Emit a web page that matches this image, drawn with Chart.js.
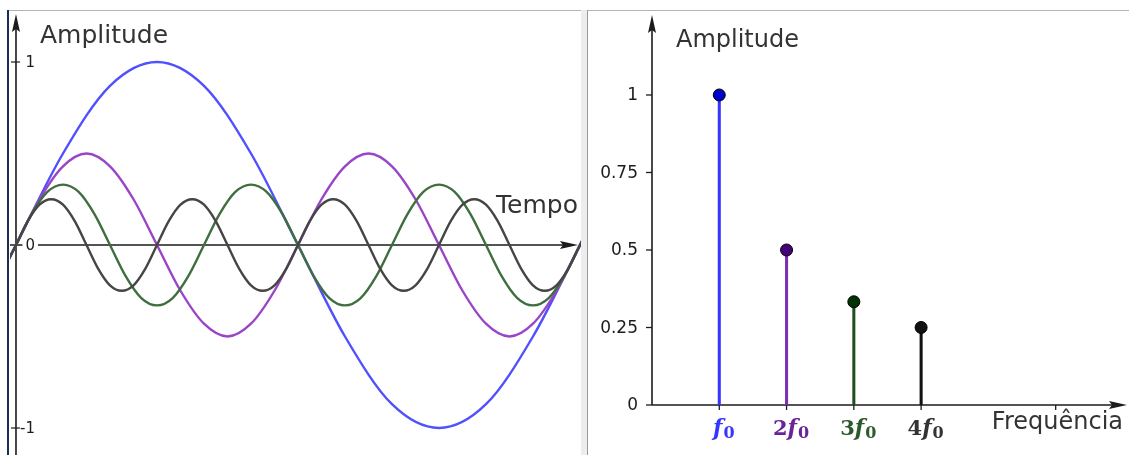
<!DOCTYPE html>
<html>
<head>
<meta charset="utf-8">
<script src="https://cdn.jsdelivr.net/npm/chart.js@4/dist/chart.umd.min.js"></script>
<style>
  body { margin: 0; background: #fff; }
  #quadro { position: relative; width: 1129px; height: 455px; overflow: hidden; }
  #quadro canvas { position: absolute; top: 0; }
  #graficoTempo { left: 0; }
  #graficoFreq { left: 588px; }
  .borda { position: absolute; }
</style>
</head>
<body>
<div id="quadro">
  <div class="borda" style="left:8px;top:10px;width:573px;height:1px;background:#b4b4b4"></div>
  <div class="borda" style="left:7px;top:10px;width:2px;height:445px;background:#1d2c52"></div>
  <div class="borda" style="left:581px;top:10px;width:6px;height:445px;background:#ededed"></div>
  <div class="borda" style="left:587px;top:10px;width:1px;height:445px;background:#9a9a9a"></div>
  <div class="borda" style="left:588px;top:10px;width:541px;height:1px;background:#b4b4b4"></div>
  <canvas id="graficoTempo" width="581" height="455"></canvas>
  <canvas id="graficoFreq" width="541" height="455"></canvas>
</div>
<script>
// tempo em 1/144 da janela; cada onda amostrada a cada 1/12 do seu período

// f0 (amplitude 1)
const tempo1 = [-12, 0, 12, 24, 36, 48, 60, 72, 84, 96, 108, 120, 132, 144, 156];
const onda1 = [-0.5, 0, 0.5, 0.87, 1, 0.87, 0.5, 0, -0.5, -0.87, -1, -0.87, -0.5, 0, 0.5];

// 2f0 (amplitude 1/2)
const tempo2 = [-6, 0, 6, 12, 18, 24, 30, 36, 42, 48, 54, 60, 66, 72, 78, 84, 90, 96, 102, 108,
  114, 120, 126, 132, 138, 144, 150];
const onda2 = [-0.25, 0, 0.25, 0.43, 0.5, 0.43, 0.25, 0, -0.25, -0.43, -0.5, -0.43, -0.25,
  0, 0.25, 0.43, 0.5, 0.43, 0.25, 0, -0.25, -0.43, -0.5, -0.43, -0.25, 0, 0.25];

// 3f0 (amplitude 1/3)
const tempo3 = [-4, 0, 4, 8, 12, 16, 20, 24, 28, 32, 36, 40, 44, 48, 52, 56, 60, 64, 68, 72,
  76, 80, 84, 88, 92, 96, 100, 104, 108, 112, 116, 120, 124, 128, 132, 136, 140, 144, 148];
const onda3 = [-0.17, 0, 0.17, 0.29, 0.33, 0.29, 0.17, 0, -0.17, -0.29, -0.33, -0.29, -0.17,
  0, 0.17, 0.29, 0.33, 0.29, 0.17, 0, -0.17, -0.29, -0.33, -0.29, -0.17,
  0, 0.17, 0.29, 0.33, 0.29, 0.17, 0, -0.17, -0.29, -0.33, -0.29, -0.17, 0, 0.17];

// 4f0 (amplitude 1/4)
const tempo4 = [-3, 0, 3, 6, 9, 12, 15, 18, 21, 24, 27, 30, 33, 36, 39, 42, 45, 48, 51, 54,
  57, 60, 63, 66, 69, 72, 75, 78, 81, 84, 87, 90, 93, 96, 99, 102, 105, 108, 111, 114,
  117, 120, 123, 126, 129, 132, 135, 138, 141, 144, 147];
const onda4 = [-0.13, 0, 0.13, 0.22, 0.25, 0.22, 0.13, 0, -0.13, -0.22, -0.25, -0.22, -0.13,
  0, 0.13, 0.22, 0.25, 0.22, 0.13, 0, -0.13, -0.22, -0.25, -0.22, -0.13,
  0, 0.13, 0.22, 0.25, 0.22, 0.13, 0, -0.13, -0.22, -0.25, -0.22, -0.13,
  0, 0.13, 0.22, 0.25, 0.22, 0.13, 0, -0.13, -0.22, -0.25, -0.22, -0.13, 0, 0.13];

const ticksTempoY = [-1, 0, 1];

// espectro
const harmonicas = [1, 2, 3, 4];
const amplitudes = [1, 0.5, 0.333, 0.25];
const rotulosFreq = ['f0', '2f0', '3f0', '4f0'];
const ticksFreqX = [1, 2, 3, 4, 6];
const ticksAmp = [0, 0.25, 0.5, 0.75, 1];

const coresOnda = ['#5050ff', '#9a44c8', '#3f6e3f', '#454545'];
const coresHaste = ['#3535ff', '#7b2fb5', '#1f4f1f', '#111111'];
const coresPonto = ['#0000cc', '#45007a', '#003300', '#111111'];
const coresRotulo = ['#3535ff', '#6a2499', '#2c5a2c', '#333333'];

const corEixo = '#1c1c1c';
const corTexto = '#333333';

function seta(ctx, xp, yp, dir) {
  // ponta de seta cheia; dir = 'cima' ou 'direita'
  ctx.beginPath();
  if (dir === 'cima') {
    ctx.moveTo(xp, yp);
    ctx.lineTo(xp - 4, yp + 18);
    ctx.lineTo(xp, yp + 15);
    ctx.lineTo(xp + 4, yp + 18);
  } else {
    ctx.moveTo(xp, yp);
    ctx.lineTo(xp - 18, yp - 4);
    ctx.lineTo(xp - 15, yp);
    ctx.lineTo(xp - 18, yp + 4);
  }
  ctx.closePath();
  ctx.fill();
}

const eixosTempo = {
  id: 'eixosTempo',
  beforeDatasetsDraw(chart) {
    const { ctx, chartArea, scales: { x, y } } = chart;
    const x0 = x.getPixelForValue(0);
    const y0 = y.getPixelForValue(0);
    const xFim = x.getPixelForValue(144) - 2;
    ctx.save();
    ctx.strokeStyle = corEixo;
    ctx.fillStyle = corEixo;
    ctx.lineWidth = 1.6;
    ctx.beginPath();
    ctx.moveTo(x0, chartArea.bottom);
    ctx.lineTo(x0, 20);
    ctx.moveTo(chartArea.left, y0);
    ctx.lineTo(xFim - 6, y0);
    ctx.stroke();
    seta(ctx, x0, 14, 'cima');
    seta(ctx, xFim, y0, 'direita');

    ctx.font = '15px "DejaVu Sans"';
    ctx.textBaseline = 'middle';
    ctx.textAlign = 'right';
    ctx.lineWidth = 1.2;
    ticksTempoY.forEach(v => {
      const py = y.getPixelForValue(v);
      const txt = String(v);
      if (v !== 0) {
        ctx.beginPath();
        ctx.moveTo(x0 - 5, py);
        ctx.lineTo(x0 + 4, py);
        ctx.stroke();
      } else {
        const w = ctx.measureText(txt).width;
        ctx.fillStyle = '#fff';
        ctx.fillRect(x0 + 19 - w - 3, py - 8, w + 6, 16);
      }
      ctx.fillStyle = corEixo;
      ctx.fillText(txt, x0 + 19, py + 1);
    });

    ctx.fillStyle = corTexto;
    ctx.textAlign = 'left';
    ctx.textBaseline = 'alphabetic';
    ctx.font = '25px "DejaVu Sans"';
    ctx.fillText('Amplitude', x0 + 24, 43);
    ctx.textAlign = 'right';
    ctx.fillText('Tempo', xFim, y0 - 32);
    ctx.restore();
  }
};

const eixosFreq = {
  id: 'eixosFreq',
  beforeDatasetsDraw(chart) {
    const { ctx, chartArea, scales: { x, y } } = chart;
    const x0 = x.getPixelForValue(0);
    const y0 = y.getPixelForValue(0);
    ctx.save();
    ctx.strokeStyle = corEixo;
    ctx.fillStyle = corEixo;
    ctx.lineWidth = 1.6;
    ctx.beginPath();
    ctx.moveTo(x0, y0);
    ctx.lineTo(x0, chartArea.top + 6);
    ctx.moveTo(x0, y0);
    ctx.lineTo(chartArea.right - 6, y0);
    ctx.stroke();
    seta(ctx, x0, chartArea.top, 'cima');
    seta(ctx, chartArea.right, y0, 'direita');

    ctx.lineWidth = 1.3;
    ctx.font = '17px "DejaVu Sans"';
    ctx.textAlign = 'right';
    ctx.textBaseline = 'middle';
    ticksAmp.forEach(v => {
      const py = y.getPixelForValue(v);
      ctx.beginPath();
      ctx.moveTo(x0 - 6, py);
      ctx.lineTo(x0, py);
      ctx.stroke();
      ctx.fillText(String(v), x0 - 14, py + 1);
    });
    ticksFreqX.forEach(v => {
      const px = x.getPixelForValue(v);
      ctx.beginPath();
      ctx.moveTo(px, y0);
      ctx.lineTo(px, y0 + 5);
      ctx.stroke();
    });

    // rótulos n·f0: coeficiente em negrito, f itálico, 0 subscrito
    ctx.textAlign = 'left';
    ctx.textBaseline = 'alphabetic';
    const fCoef = 'bold 21px "DejaVu Serif"';
    const fF = 'italic bold 22px "DejaVu Serif"';
    const fSub = 'bold 16px "DejaVu Serif"';
    harmonicas.forEach((h, i) => {
      const rot = rotulosFreq[i];
      const coef = rot.slice(0, -2);
      ctx.font = fCoef; const wc = ctx.measureText(coef).width;
      ctx.font = fF; const wf = ctx.measureText('f').width;
      ctx.font = fSub; const ws = ctx.measureText('0').width;
      let px = x.getPixelForValue(h) + 4 - (wc + wf + ws) / 2;
      const base = y0 + 30;
      ctx.fillStyle = coresRotulo[i];
      ctx.font = fCoef; ctx.fillText(coef, px, base); px += wc;
      ctx.font = fF; ctx.fillText('f', px, base); px += wf + 1;
      ctx.font = fSub; ctx.fillText('0', px, base + 3);
    });

    ctx.fillStyle = corTexto;
    ctx.font = '24px "DejaVu Sans"';
    ctx.fillText('Amplitude', x0 + 24, 47);
    ctx.textAlign = 'right';
    ctx.fillText('Frequência', chartArea.right - 4, y0 + 24);
    ctx.restore();
  }
};

const ondas = [[tempo1, onda1], [tempo2, onda2], [tempo3, onda3], [tempo4, onda4]];

new Chart(document.getElementById('graficoTempo'), {
  type: 'line',
  data: {
    datasets: ondas.map(([ts, vals], i) => ({
      data: ts.map((t, j) => ({ x: t, y: vals[j] })),
      borderColor: coresOnda[i],
      order: 4 - i
    }))
  },
  options: {
    responsive: false,
    animation: false,
    layout: { autoPadding: false, padding: { left: 10, top: 11, right: 0, bottom: 0 } },
    plugins: { legend: { display: false }, tooltip: { enabled: false } },
    elements: {
      point: { radius: 0 },
      line: { borderWidth: 2.4, cubicInterpolationMode: 'monotone' }
    },
    scales: {
      x: { type: 'linear', display: false, min: -1.53, max: 144.26 },
      y: { type: 'linear', display: false, min: -1.1475, max: 1.2787 }
    }
  },
  plugins: [eixosTempo]
});

const espectro = harmonicas.map((h, i) => ({ x: h, y: amplitudes[i] }));

new Chart(document.getElementById('graficoFreq'), {
  type: 'bar',
  data: {
    datasets: [
      {
        type: 'scatter',
        data: espectro,
        pointRadius: 6,
        pointBackgroundColor: coresPonto,
        pointBorderColor: '#000',
        pointBorderWidth: 1
      },
      {
        type: 'bar',
        data: espectro,
        backgroundColor: coresHaste,
        barThickness: 2.4
      }
    ]
  },
  options: {
    responsive: false,
    animation: false,
    layout: { autoPadding: false, padding: { left: 64, top: 15, right: 2, bottom: 50 } },
    plugins: { legend: { display: false }, tooltip: { enabled: false } },
    scales: {
      x: { type: 'linear', display: false, offset: false, min: 0, max: 7.06 },
      y: { type: 'linear', display: false, min: 0, max: 1.258 }
    }
  },
  plugins: [eixosFreq]
});
</script>
</body>
</html>
